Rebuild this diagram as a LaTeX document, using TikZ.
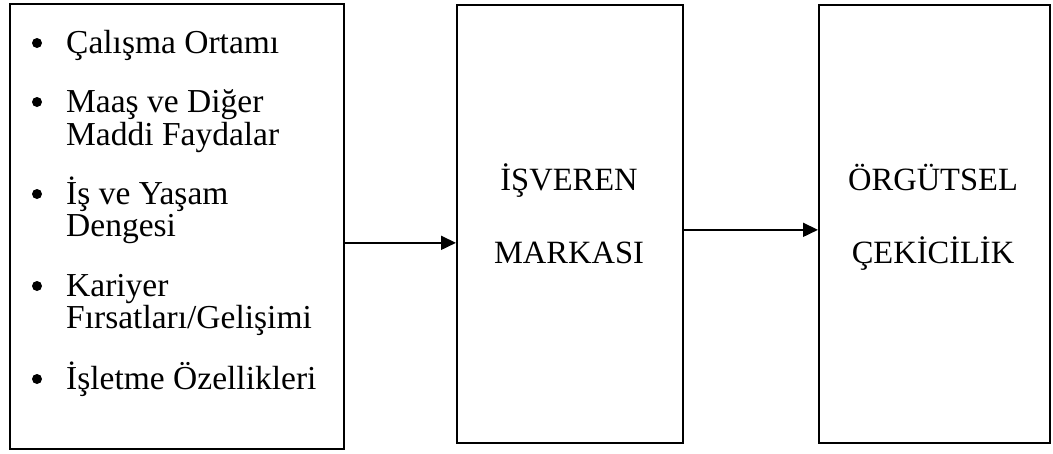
\documentclass[tikz,border=0pt]{standalone}
\usepackage{fontspec}
\setmainfont{Liberation Serif}
\usetikzlibrary{arrows.meta}
\begin{document}
\begin{tikzpicture}[x=1pt,y=-1pt,
  box/.style={draw=black,line width=1.7pt,anchor=north west,inner sep=0pt},
  txt/.style={font=\fontsize{32.5}{32.5}\selectfont,inner sep=0pt},
  itm/.style={txt,font=\fontsize{33.5}{33.5}\selectfont,anchor=base west},
  ctr/.style={txt,anchor=base},
  arr/.style={line width=1.7pt,-{Triangle[length=15pt,width=14pt]}},
  dot/.style={fill=black,circle,inner sep=0pt,minimum size=10pt}]
\useasboundingbox (0,0) rectangle (1053,453);
\node[box,minimum width=334pt,minimum height=445pt] (L) at (9,3) {};
\node[box,minimum width=226pt,minimum height=438pt] (M) at (456,4) {};
\node[box,minimum width=231pt,minimum height=438pt] (R) at (818,4) {};
% left items
\node[itm] (t1) at (66,53) {Çalışma Ortamı};
\node[itm] (t2) at (66,112) {Maaş ve Diğer};
\node[itm] (t2b) at (66,145) {Maddi Faydalar};
\node[itm] (t3) at (66,204) {İş ve Yaşam};
\node[itm] (t3b) at (66,236) {Dengesi};
\node[itm] (t4) at (66,296) {Kariyer};
\node[itm] (t4b) at (66,328) {Fırsatları/Gelişimi};
\node[itm] (t5) at (66,389) {İşletme Özellikleri};
\node[dot] (b1) at (37,43) {};
\node[dot] (b2) at (37,102) {};
\node[dot] (b3) at (37,194) {};
\node[dot] (b4) at (37,286) {};
\node[dot] (b5) at (37,379) {};
% middle and right
\node[ctr] (m1) at (569,190) {İŞVEREN};
\node[ctr] (m2) at (569,263) {MARKASI};
\node[ctr] (r1) at (933,190) {ÖRGÜTSEL};
\node[ctr] (r2) at (933,263) {ÇEKİCİLİK};
% arrows
\draw[arr] ([yshift=-16.5pt]L.east) -- ([yshift=-16.5pt]L.east -| M.west);
\draw[arr] ([yshift=-6pt]M.east) -- ([yshift=-6pt]M.east -| R.west);
\end{tikzpicture}
\end{document}
